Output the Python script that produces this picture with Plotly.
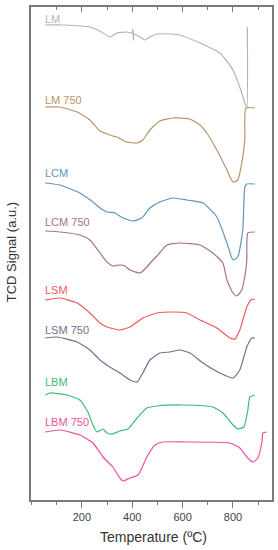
import plotly.graph_objects as go

# Temperature (ºC) and TCD signal (a.u., arbitrary offset units) for each sample
lm_t = [54, 125, 232, 272, 311, 339, 379, 399, 403, 405, 407, 431, 450, 470, 498, 550, 589, 669, 748, 800, 827, 847, 855, 857]
lm_s = [475, 475, 473, 469, 463, 467, 468, 467, 471, 460, 466, 463, 460, 463, 466, 466, 465, 457, 447, 430, 413, 397, 393, 473]

lm750_t = [54, 113, 181, 232, 272, 300, 323, 339, 379, 419, 442, 470, 510, 561, 629, 669, 696, 736, 776, 800, 819, 835, 847, 851, 887]
lm750_s = [393, 393, 388, 380, 369, 366, 364, 363, 358, 357, 360, 370, 379, 382, 381, 375, 367, 350, 330, 318, 320, 337, 360, 392, 392]

lcm_t = [54, 113, 192, 244, 272, 300, 331, 363, 403, 438, 470, 510, 561, 617, 681, 736, 776, 800, 819, 839, 847, 855, 887]
lcm_s = [317, 315, 307, 298, 292, 288, 287, 282, 279, 282, 292, 298, 302, 300, 297, 283, 257, 240, 243, 270, 313, 316, 316]

lcm750_t = [54, 113, 192, 232, 272, 300, 323, 351, 371, 391, 431, 458, 482, 498, 538, 589, 669, 720, 760, 776, 800, 815, 835, 851, 855, 859, 887]
lcm750_s = [269, 268, 265, 260, 247, 238, 234, 235, 234, 230, 227, 233, 240, 244, 255, 257, 255, 247, 237, 220, 207, 204, 210, 230, 240, 267, 268]

lsm_t = [54, 113, 181, 232, 272, 300, 351, 391, 442, 498, 561, 617, 669, 736, 788, 808, 827, 855, 871, 887]
lsm_s = [200, 202, 197, 187, 177, 173, 170, 173, 182, 187, 188, 187, 180, 172, 162, 161, 170, 193, 200, 201]

lsm750_t = [54, 101, 181, 232, 272, 311, 351, 391, 419, 442, 470, 510, 550, 589, 629, 681, 748, 800, 827, 855, 875, 887]
lsm750_s = [162, 163, 158, 150, 140, 133, 127, 120, 118, 127, 140, 147, 148, 150, 147, 137, 127, 122, 130, 153, 162, 162]

lbm_t = [54, 73, 141, 192, 224, 244, 260, 284, 300, 319, 351, 383, 419, 458, 498, 601, 720, 760, 800, 819, 843, 859, 867, 887]
lbm_s = [105, 107, 105, 100, 88, 75, 68, 71, 67, 66, 69, 71, 82, 92, 94, 95, 93, 87, 75, 71, 73, 90, 103, 105]

lbm750_t = [54, 113, 192, 244, 284, 323, 351, 363, 391, 423, 458, 490, 522, 617, 788, 827, 859, 879, 899, 915, 919, 934]
lbm750_s = [68, 70, 65, 57, 43, 33, 22, 19, 22, 25, 43, 55, 58, 58, 57, 52, 42, 38, 42, 58, 67, 68]

names = ["LM", "LM 750", "LCM", "LCM 750", "LSM", "LSM 750", "LBM", "LBM 750"]
label_y = [481, 400, 327, 278, 210, 170, 118, 78]
colors = ["#b3b3b3", "#b8946a", "#5e97b8", "#a8718f", "#f0585a", "#707090", "#3fba7a", "#f050a2"]

series = [(lm_t, lm_s), (lm750_t, lm750_s), (lcm_t, lcm_s), (lcm750_t, lcm750_s),
          (lsm_t, lsm_s), (lsm750_t, lsm750_s), (lbm_t, lbm_s), (lbm750_t, lbm750_s)]

FONT = "Liberation Sans, Arial"

fig = go.Figure()
for (t, s), name, c in zip(series, names, colors):
    fig.add_trace(go.Scatter(x=t, y=s, mode="lines", name=name,
                             line=dict(color=c, width=1.2, shape="spline", smoothing=0.5),
                             showlegend=False, hoverinfo="skip"))

# invisible trace for top axis
fig.add_trace(go.Scatter(x=[0, 950], y=[0, 0], xaxis="x2", mode="lines",
                         line=dict(width=0), showlegend=False, hoverinfo="skip"))

for name, ly, c in zip(names, label_y, colors):
    fig.add_annotation(x=46, y=ly, text=name, showarrow=False, xanchor="left", yanchor="middle",
                       font=dict(family=FONT, size=11, color=c))

fig.add_annotation(xref="paper", yref="paper", x=-0.082, y=0.503, text="TCD Signal (a.u.)",
                   textangle=-90, showarrow=False, xanchor="center", yanchor="middle",
                   font=dict(family=FONT, size=13, color="#333333"))
fig.add_annotation(xref="paper", yref="paper", x=0.51, y=-0.075, text="Temperature (ºC)",
                   showarrow=False, xanchor="center", yanchor="middle",
                   font=dict(family=FONT, size=14, color="#333333"))

axcol = "#7a7a7a"
fig.update_layout(
    width=278, height=550,
    margin=dict(l=31, r=6, t=7, b=50, autoexpand=False),
    paper_bgcolor="white", plot_bgcolor="white",
    font=dict(family=FONT, color="#444444"),
    xaxis=dict(range=[-2, 955], tickvals=[200, 400, 600, 800], ticks="outside", ticklen=6,
               tickcolor=axcol, tickwidth=1, showline=True, linecolor=axcol, linewidth=1.5,
               showgrid=False, zeroline=False, tickfont=dict(size=11, color="#444444"),
               automargin=False,
               minor=dict(dtick=100, tick0=0, ticks="outside", ticklen=3, tickcolor=axcol, showgrid=False)),
    xaxis2=dict(range=[-2, 955], overlaying="x", side="top", anchor="y", matches="x",
                tickvals=[200, 400, 600, 800], ticks="inside", ticklen=5, tickcolor=axcol,
                showticklabels=False, showline=True, linecolor=axcol, linewidth=1.5,
                showgrid=False, zeroline=False, automargin=False,
                minor=dict(dtick=100, tick0=0, ticks="inside", ticklen=3, tickcolor=axcol, showgrid=False)),
    yaxis=dict(range=[0, 493], showticklabels=False, ticks="", showgrid=False, zeroline=False,
               showline=True, linecolor=axcol, linewidth=1.5, mirror=True, automargin=False),
)

fig.write_html("out.html", config={"displayModeBar": False},
               post_script="document.body.style.margin='0';document.body.style.padding='0';")
